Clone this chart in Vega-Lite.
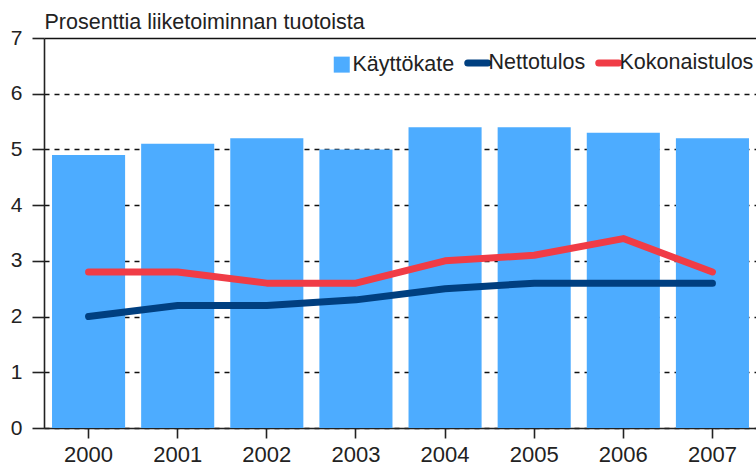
{
  "$schema": "https://vega.github.io/schema/vega-lite/v6.json",
  "autosize": {"type": "none"},
  "padding": {"left": 44, "top": 38, "right": 0, "bottom": 38},
  "width": 713,
  "height": 390,
  "background": "white",
  "config": {
    "view": {"stroke": null},
    "font": "Liberation Sans",
    "axis": {"labelFont": "Liberation Sans", "labelColor": "#222", "titleColor": "#222"}
  },
  "data": {
    "values": [
      {"vuosi": "2000", "sarja": "Käyttökate", "arvo": 4.9},
      {"vuosi": "2001", "sarja": "Käyttökate", "arvo": 5.1},
      {"vuosi": "2002", "sarja": "Käyttökate", "arvo": 5.2},
      {"vuosi": "2003", "sarja": "Käyttökate", "arvo": 5.0},
      {"vuosi": "2004", "sarja": "Käyttökate", "arvo": 5.4},
      {"vuosi": "2005", "sarja": "Käyttökate", "arvo": 5.4},
      {"vuosi": "2006", "sarja": "Käyttökate", "arvo": 5.3},
      {"vuosi": "2007", "sarja": "Käyttökate", "arvo": 5.2},
      {"vuosi": "2000", "sarja": "Nettotulos", "arvo": 2.0},
      {"vuosi": "2001", "sarja": "Nettotulos", "arvo": 2.2},
      {"vuosi": "2002", "sarja": "Nettotulos", "arvo": 2.2},
      {"vuosi": "2003", "sarja": "Nettotulos", "arvo": 2.3},
      {"vuosi": "2004", "sarja": "Nettotulos", "arvo": 2.5},
      {"vuosi": "2005", "sarja": "Nettotulos", "arvo": 2.6},
      {"vuosi": "2006", "sarja": "Nettotulos", "arvo": 2.6},
      {"vuosi": "2007", "sarja": "Nettotulos", "arvo": 2.6},
      {"vuosi": "2000", "sarja": "Kokonaistulos", "arvo": 2.8},
      {"vuosi": "2001", "sarja": "Kokonaistulos", "arvo": 2.8},
      {"vuosi": "2002", "sarja": "Kokonaistulos", "arvo": 2.6},
      {"vuosi": "2003", "sarja": "Kokonaistulos", "arvo": 2.6},
      {"vuosi": "2004", "sarja": "Kokonaistulos", "arvo": 3.0},
      {"vuosi": "2005", "sarja": "Kokonaistulos", "arvo": 3.1},
      {"vuosi": "2006", "sarja": "Kokonaistulos", "arvo": 3.4},
      {"vuosi": "2007", "sarja": "Kokonaistulos", "arvo": 2.8}
    ]
  },
  "encoding": {
    "x": {
      "field": "vuosi", "type": "nominal",
      "scale": {"paddingInner": 0.18, "paddingOuter": 0.09},
      "axis": {
        "title": null, "labelAngle": 0, "labelFontSize": 22, "labelPadding": 6,
        "tickSize": 10, "tickColor": "#222", "tickWidth": 1.6,
        "domainColor": "#222", "domainWidth": 1.6, "grid": false
      }
    },
    "y": {
      "field": "arvo", "type": "quantitative",
      "scale": {"domain": [0, 7], "nice": false},
      "axis": {
        "title": "Prosenttia liiketoiminnan tuotoista",
        "titleAngle": 0, "titleAlign": "left", "titleBaseline": "alphabetic",
        "titleX": 0, "titleY": -10, "titleFontSize": 21.5, "titleFontWeight": "normal",
        "titleFont": "Liberation Sans",
        "values": [0, 1, 2, 3, 4, 5, 6, 7],
        "labelFontSize": 21, "labelPadding": 10,
        "tickSize": 12, "tickColor": "#222", "tickWidth": 1.6,
        "domainColor": "#222", "domainWidth": 1.6,
        "grid": true, "gridColor": "#111", "gridWidth": 1.4,
        "gridDash": {"condition": {"test": "datum.value === 7", "value": []}, "value": [5, 5]},
        "gridOpacity": 1
      }
    },
    "color": {
      "field": "sarja", "type": "nominal",
      "scale": {
        "domain": ["Käyttökate", "Nettotulos", "Kokonaistulos"],
        "range": ["#4DACFF", "#003F80", "#F03C46"]
      },
      "legend": {
        "orient": "none", "legendX": 287, "legendY": 14, "direction": "horizontal",
        "title": null, "labelFontSize": 21.5, "labelColor": "#222", "labelFont": "Liberation Sans",
        "symbolSize": 729, "labelOffset": 0, "columnPadding": -2,
        "encode": {
          "symbols": {
            "update": {
              "shape": {"signal": "datum.value === 'Käyttökate' ? 'square' : 'stroke'"},
              "size": {"signal": "datum.value === 'Käyttökate' ? 256 : 400"},
              "strokeWidth": {"signal": "datum.value === 'Käyttökate' ? 0 : 7"},
              "fill": {"scale": "color", "field": "value"},
              "stroke": {"scale": "color", "field": "value"},
              "strokeCap": {"value": "round"},
              "fillOpacity": {"value": 1},
              "opacity": {"value": 1}
            }
          }
        }
      }
    }
  },
  "layer": [
    {
      "transform": [{"filter": "datum.sarja === 'Käyttökate'"}],
      "mark": {"type": "bar", "opacity": 1}
    },
    {
      "transform": [{"filter": "datum.sarja !== 'Käyttökate'"}],
      "mark": {"type": "line", "strokeWidth": 7, "strokeCap": "round", "strokeJoin": "round"}
    }
  ]
}
